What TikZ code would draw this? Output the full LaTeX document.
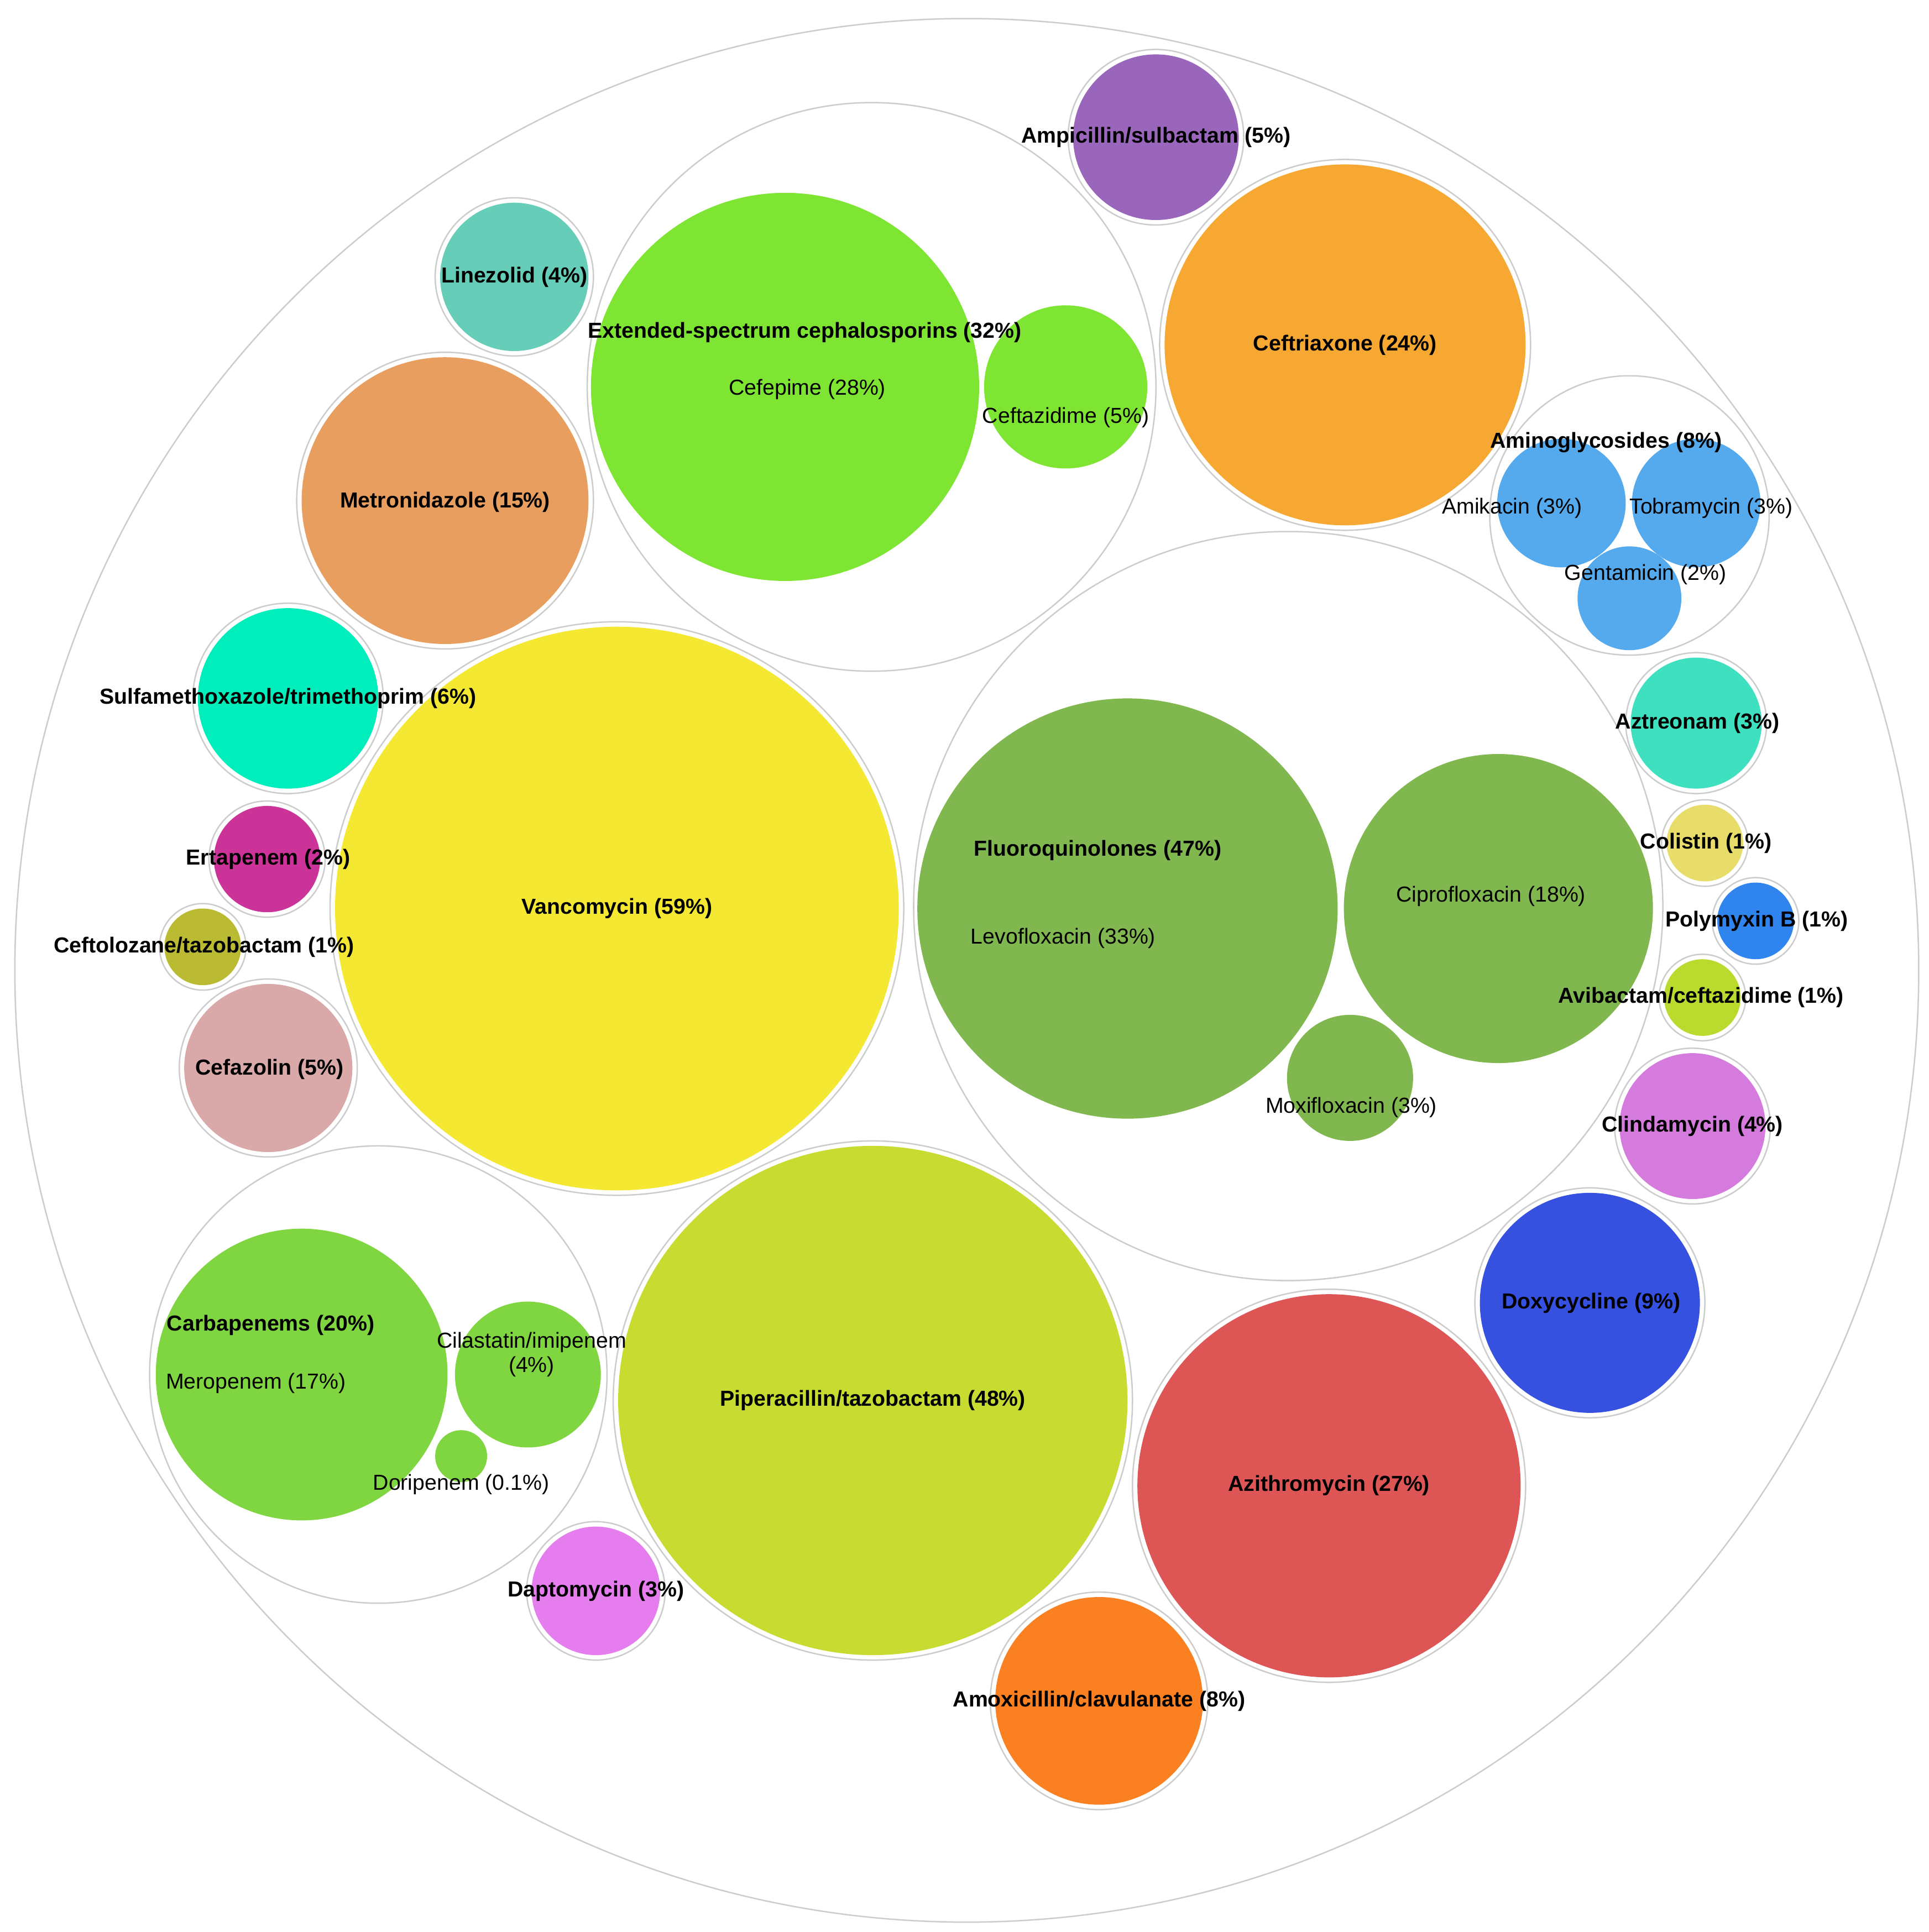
\documentclass[tikz,border=0pt]{standalone}
\usepackage{fontspec}
\setmainfont{Liberation Sans}
\usetikzlibrary{positioning}

\definecolor{ringgray}{HTML}{CCCCCC}

\begin{document}
\begin{tikzpicture}[x=0.05cm, y=-0.05cm,
        every node/.style={font=\fontsize{25}{28}\selectfont, inner sep=0pt},
        bold/.style={font=\fontsize{25}{28}\selectfont\bfseries},
        group/.style={draw=ringgray, line width=1.6pt, fill=white},
        ring/.style={draw=ringgray, line width=1.6pt, fill=white}
      ]
      \useasboundingbox (0,0) rectangle (1560,1563);
      % outer circle and groups
      \draw[group] (782,785) circle (770);
      \draw[group] (705,313) circle (230);
      \draw[group] (1318,417) circle (113);
      \draw[group] (1042,733) circle (303);
      \draw[group] (306,1112) circle (185);

      % single drugs: x/y/r/colour
      \foreach \x/\y/\r/\c in {
          935/111/67/9966BB, 1088/279/146/F7A833, 416/224/60/66CDB8,
          360/405/116/E89E5E, 233/565/73/00EEBB, 499/735/228/F5E833,
          1372/585/53/3EE0C0, 1379/682/31/E8DD6A, 1420/745/31/2F84EE,
          1377/807/31/BADA2E, 1369/911/59/D47BDD, 216/695/43/CC3399,
          164/766/31/BBBB33, 217/864/68/D9A9A9, 706/1133/206/C8DB30,
          482/1287/52/E67DEE, 1286/1054/89/3650E0, 1075/1202/155/DD5555,
          889/1376/84/FA8022} {
        \definecolor{bub}{HTML}{\c}
        \draw[ring] (\x,\y) circle (\r+4);
        \fill[bub] (\x,\y) circle (\r);
      }

      % members of groups
      \foreach \x/\y/\r/\c in {
          635/313/157/7EE533, 862/313/66/7EE533,
          1263/407/52/55AAEE, 1372/407/52/55AAEE, 1318/484/42/55AAEE,
          912/735/170/80B84F, 1212/735/125/80B84F, 1092/872/51/80B84F,
          244/1112/118/80D640, 427/1112/59/80D640, 373/1178/21/80D640} {
        \definecolor{bub}{HTML}{\c}
        \fill[bub] (\x,\y) circle (\r);
      }

      % labels
      \node[bold] (ampi) at (935,111) {Ampicillin/sulbactam (5\%)};
      \node[bold] (esc) at (651,269) {Extended-spectrum cephalosporins (32\%)};
      \node (cefe) at (653,315) {Cefepime (28\%)};
      \node (ceftaz) at (862,338) {Ceftazidime (5\%)};
      \node[bold] (ceftri) at (1088,279) {Ceftriaxone (24\%)};
      \node[bold] (line) at (416,224) {Linezolid (4\%)};
      \node[bold] (metro) at (360,406) {Metronidazole (15\%)};
      \node[bold] (amino) at (1299,358) {Aminoglycosides (8\%)};
      \node (amik) at (1223,411) {Amikacin (3\%)};
      \node (tobra) at (1384,411) {Tobramycin (3\%)};
      \node (genta) at (1331,465) {Gentamicin (2\%)};
      \node[bold] (sulfa) at (233,565) {Sulfamethoxazole/trimethoprim (6\%)};
      \node[bold] (aztr) at (1373,585) {Aztreonam (3\%)};
      \node[bold] (coli) at (1380,682) {Colistin (1\%)};
      \node[bold] (poly) at (1421,745) {Polymyxin B (1\%)};
      \node[bold] (avib) at (1376,807) {Avibactam/ceftazidime (1\%)};
      \node[bold] (clin) at (1369,911) {Clindamycin (4\%)};
      \node[bold] (erta) at (217,695) {Ertapenem (2\%)};
      \node[bold] (cefto) at (165,766) {Ceftolozane/tazobactam (1\%)};
      \node[bold] (cefa) at (218,865) {Cefazolin (5\%)};
      \node[bold] (vanco) at (499,735) {Vancomycin (59\%)};
      \node[bold] (fluoro) at (888,688) {Fluoroquinolones (47\%)};
      \node (levo) at (860,759) {Levofloxacin (33\%)};
      \node (cipro) at (1206,725) {Ciprofloxacin (18\%)};
      \node (moxi) at (1093,896) {Moxifloxacin (3\%)};
      \node[bold] (carba) at (219,1072) {Carbapenems (20\%)};
      \node (mero) at (207,1119) {Meropenem (17\%)};
      \node[align=center] (cila) at (430,1096) {Cilastatin/imipenem\\(4\%)};
      \node (dori) at (373,1201) {Doripenem (0.1\%)};
      \node[bold] (pipe) at (706,1133) {Piperacillin/tazobactam (48\%)};
      \node[bold] (dapto) at (482,1287) {Daptomycin (3\%)};
      \node[bold] (doxy) at (1287,1054) {Doxycycline (9\%)};
      \node[bold] (azi) at (1075,1202) {Azithromycin (27\%)};
      \node[bold] (amox) at (889,1376) {Amoxicillin/clavulanate (8\%)};
\end{tikzpicture}
\end{document}
